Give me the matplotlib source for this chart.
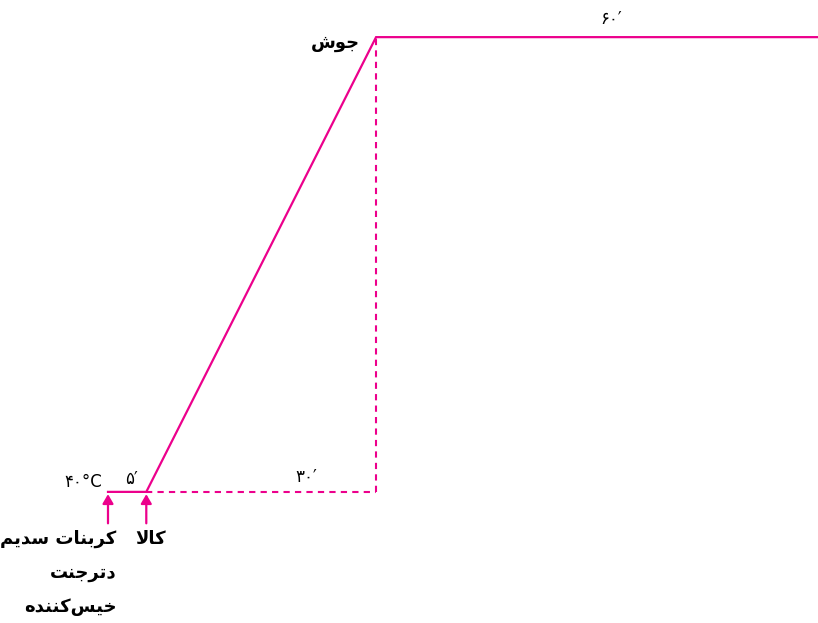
import matplotlib.pyplot as plt

# process profile: time (min) vs temperature (C)
times = [0, 5, 35, 95]
temps = [40, 40, 100, 100]

# persian labels, written in visual order with presentation forms
# (matplotlib does no arabic shaping / bidi by itself)
boil_label = "\uFEB5\uFEEE\uFE9F"                         # جوش
goods_label = "\uFEFB\uFE8E\uFB90"                        # کالا
soda_label = "\uFEE2\uFBFE\uFEAA\uFEB3 \uFE95\uFE8E\uFEE8\uFE91\uFEAE\uFB90"  # کربنات سدیم
detergent_label = "\uFE96\uFEE8\uFE9F\uFEAE\uFE97\uFEA9"  # دترجنت
wetting_label = "\uFEE9\uFEAA\uFEE8\uFEE8\uFB90\uFEB2\uFBFF\uFEA7"  # خیس‌کننده
start_temp = "\u06F4\u06F0\u00B0C"                        # ۴۰°C
durations = ["\u06F5\u2032", "\u06F3\u06F0\u2032", "\u06F6\u06F0\u2032"]  # ۵′ ۳۰′ ۶۰′

pink = '#EC008C'
plt.rcParams['font.family'] = ['DejaVu Sans']

fig = plt.figure(figsize=(8.18, 6.23), dpi=100)
ax = fig.add_axes([0, 0, 1, 1])
ax.set_xlim(-14.1, 92.7)
ax.set_ylim(22.7, 104.9)
ax.axis('off')

# main profile
ax.plot(times, temps, color=pink, lw=1.6, solid_joinstyle='miter')

# dashed guides under the ramp
ax.plot([times[1], times[2]], [temps[1], temps[1]], color=pink, lw=1.5, ls=(0, (3, 2.5)))
ax.plot([times[2], times[2]], [temps[1], temps[2]], color=pink, lw=1.5, ls=(0, (3, 2.5)))

# inputs: arrows pointing up to the start line
arrow_kw = dict(arrowstyle='-|>,head_length=0.55,head_width=0.32', color=pink, lw=1.6,
                shrinkA=0, shrinkB=0)
for t in times[:2]:
    ax.annotate('', xy=(t, temps[0] - 0.3), xycoords='data',
                xytext=(0, -21), textcoords='offset points', arrowprops=arrow_kw)

bold = dict(fontsize=13, fontweight='bold', color='black')
small = dict(fontsize=12, color='black')

ax.annotate(boil_label, (times[2], temps[2]), xytext=(-12, -4), textcoords='offset points',
            ha='right', va='center', **bold)
ax.annotate(goods_label, (times[1], temps[1]), xytext=(3, -34), textcoords='offset points',
            ha='center', va='center', **bold)
ax.annotate(soda_label + "\n" + detergent_label + "\n" + wetting_label, (times[0], temps[0]),
            xytext=(6, -27), textcoords='offset points', ha='right', va='top',
            multialignment='right', linespacing=2.15, **bold)

ax.annotate(start_temp, (times[0], temps[0]), xytext=(-4, 7), textcoords='offset points',
            ha='right', va='center', **small)
ax.annotate(durations[0], ((times[0] + times[1]) / 2, temps[0]), xytext=(3, 9),
            textcoords='offset points', ha='center', va='center', **small)
ax.annotate(durations[1], (times[2], temps[1]), xytext=(-50, 11),
            textcoords='offset points', ha='center', va='center', **small)
ax.annotate(durations[2], ((times[2] + times[3]) / 2, temps[2]), xytext=(4, 13),
            textcoords='offset points', ha='center', va='center', **small)

fig.savefig('out.png', dpi=100)
